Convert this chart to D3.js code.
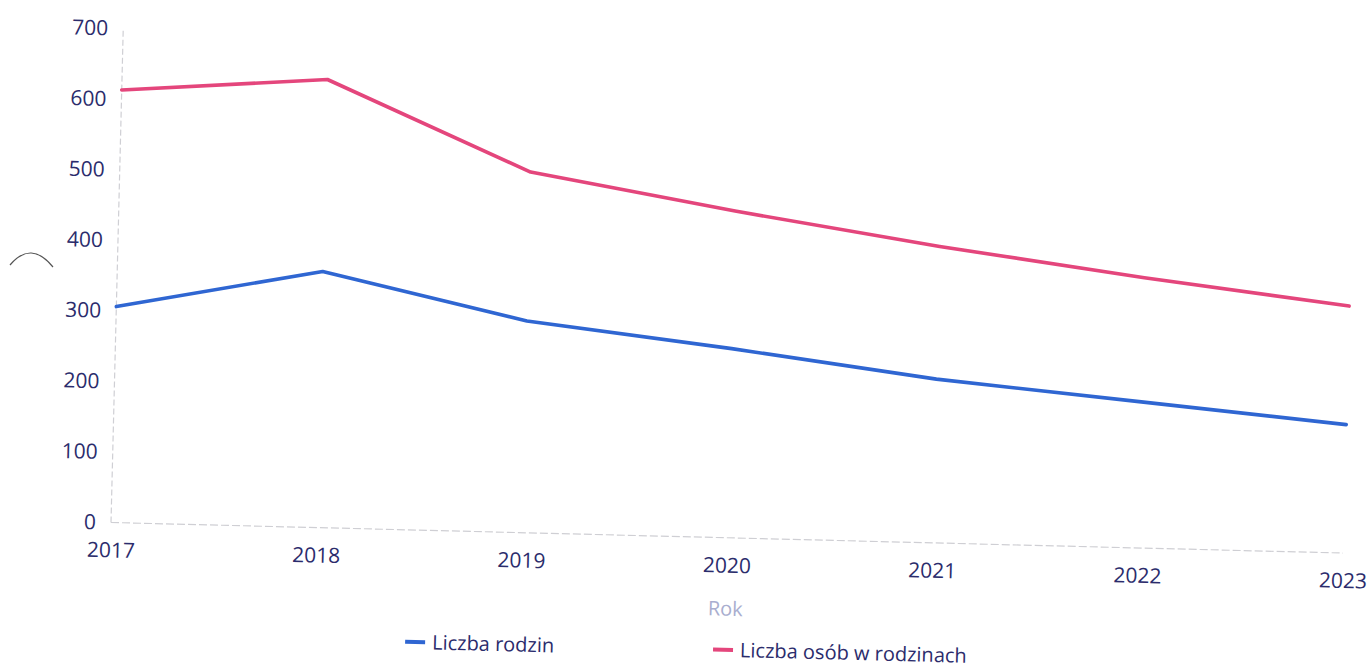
<!DOCTYPE html>
<html>
<head>
<meta charset="utf-8">
<script src="https://cdn.jsdelivr.net/npm/d3@7"></script>
<style>
  html, body { margin: 0; padding: 0; background: #ffffff; }
  svg { display: block; }
  text { font-family: "Segoe UI", "Open Sans", "Noto Sans", sans-serif; }
</style>
</head>
<body>
<svg id="chart" width="1369" height="671"></svg>
<script>
// ---- data ----
const years = ["2017", "2018", "2019", "2020", "2021", "2022", "2023"];
const liczbaRodzin = [306, 363, 300, 268, 232, 207, 182];
const liczbaOsob = [613, 635, 511, 463, 420, 383, 350];
const yTicks = [0, 100, 200, 300, 400, 500, 600, 700];
const seriesNames = ["Liczba rodzin", "Liczba osób w rodzinach"];
const seriesColors = ["#2f66d2", "#e4467c"];
const axisTitle = "Rok";

// ---- layout ----
const W = 1369, H = 671;
const originX = 111, originY = 522.5, tilt = 1.42;
const plotW = 1232.4, plotH = 494.1;
const textColor = "#2b2c6c";

const svg = d3.select("#chart");
svg.append("rect").attr("width", W).attr("height", H).attr("fill", "#fff");

const g = svg.append("g")
  .attr("transform", `translate(${originX},${originY}) rotate(${tilt})`);

const x = d3.scalePoint().domain(years).range([0, plotW]).padding(0);
const y = d3.scaleLinear().domain([0, 700]).range([0, -plotH]);

// axis lines (dashed, light)
g.append("line")
  .attr("x1", 0).attr("x2", 0).attr("y1", y(0)).attr("y2", y(700))
  .attr("stroke", "#cfcfd4").attr("stroke-width", 1.2).attr("stroke-dasharray", "6,3");
g.append("line")
  .attr("x1", 0).attr("x2", plotW).attr("y1", 0).attr("y2", 0)
  .attr("stroke", "#cfcfd4").attr("stroke-width", 1.2).attr("stroke-dasharray", "8,3");

// y axis
const yAxis = g.append("g")
  .call(d3.axisLeft(y).tickValues(yTicks).tickSize(0).tickPadding(15).tickFormat(d3.format("d")));
yAxis.select(".domain").remove();
yAxis.selectAll("text")
  .attr("fill", textColor).style("font-size", "21px");

// x axis
const xAxis = g.append("g")
  .call(d3.axisBottom(x).tickSize(0).tickPadding(20));
xAxis.select(".domain").remove();
xAxis.selectAll("text")
  .attr("fill", textColor).style("font-size", "21px");

// axis title
g.append("text")
  .attr("x", plotW / 2).attr("y", 78)
  .attr("text-anchor", "middle")
  .attr("fill", "#a9aecf").style("font-size", "20px")
  .text(axisTitle);

// lines
const line = d3.line().x((d, i) => x(years[i])).y(d => y(d));
[liczbaRodzin, liczbaOsob].forEach((vals, k) => {
  g.append("path")
    .datum(vals)
    .attr("d", line)
    .attr("fill", "none")
    .attr("stroke", seriesColors[k])
    .attr("stroke-width", 3.6)
    .attr("stroke-linejoin", "round")
    .attr("stroke-linecap", "round");
});

// legend
const legendX = [297, 605];
seriesNames.forEach((name, k) => {
  const lg = g.append("g").attr("transform", `translate(${legendX[k]},112)`);
  lg.append("rect")
    .attr("x", 0).attr("y", -2).attr("width", 20).attr("height", 4)
    .attr("fill", seriesColors[k]);
  lg.append("text")
    .attr("x", 27).attr("y", 7)
    .attr("fill", textColor).style("font-size", "20px")
    .text(name);
});

// small arc artifact at left edge
svg.append("path")
  .attr("d", "M10,265 Q31,240 53,267")
  .attr("fill", "none").attr("stroke", "#555").attr("stroke-width", 1.2);
</script>
</body>
</html>
